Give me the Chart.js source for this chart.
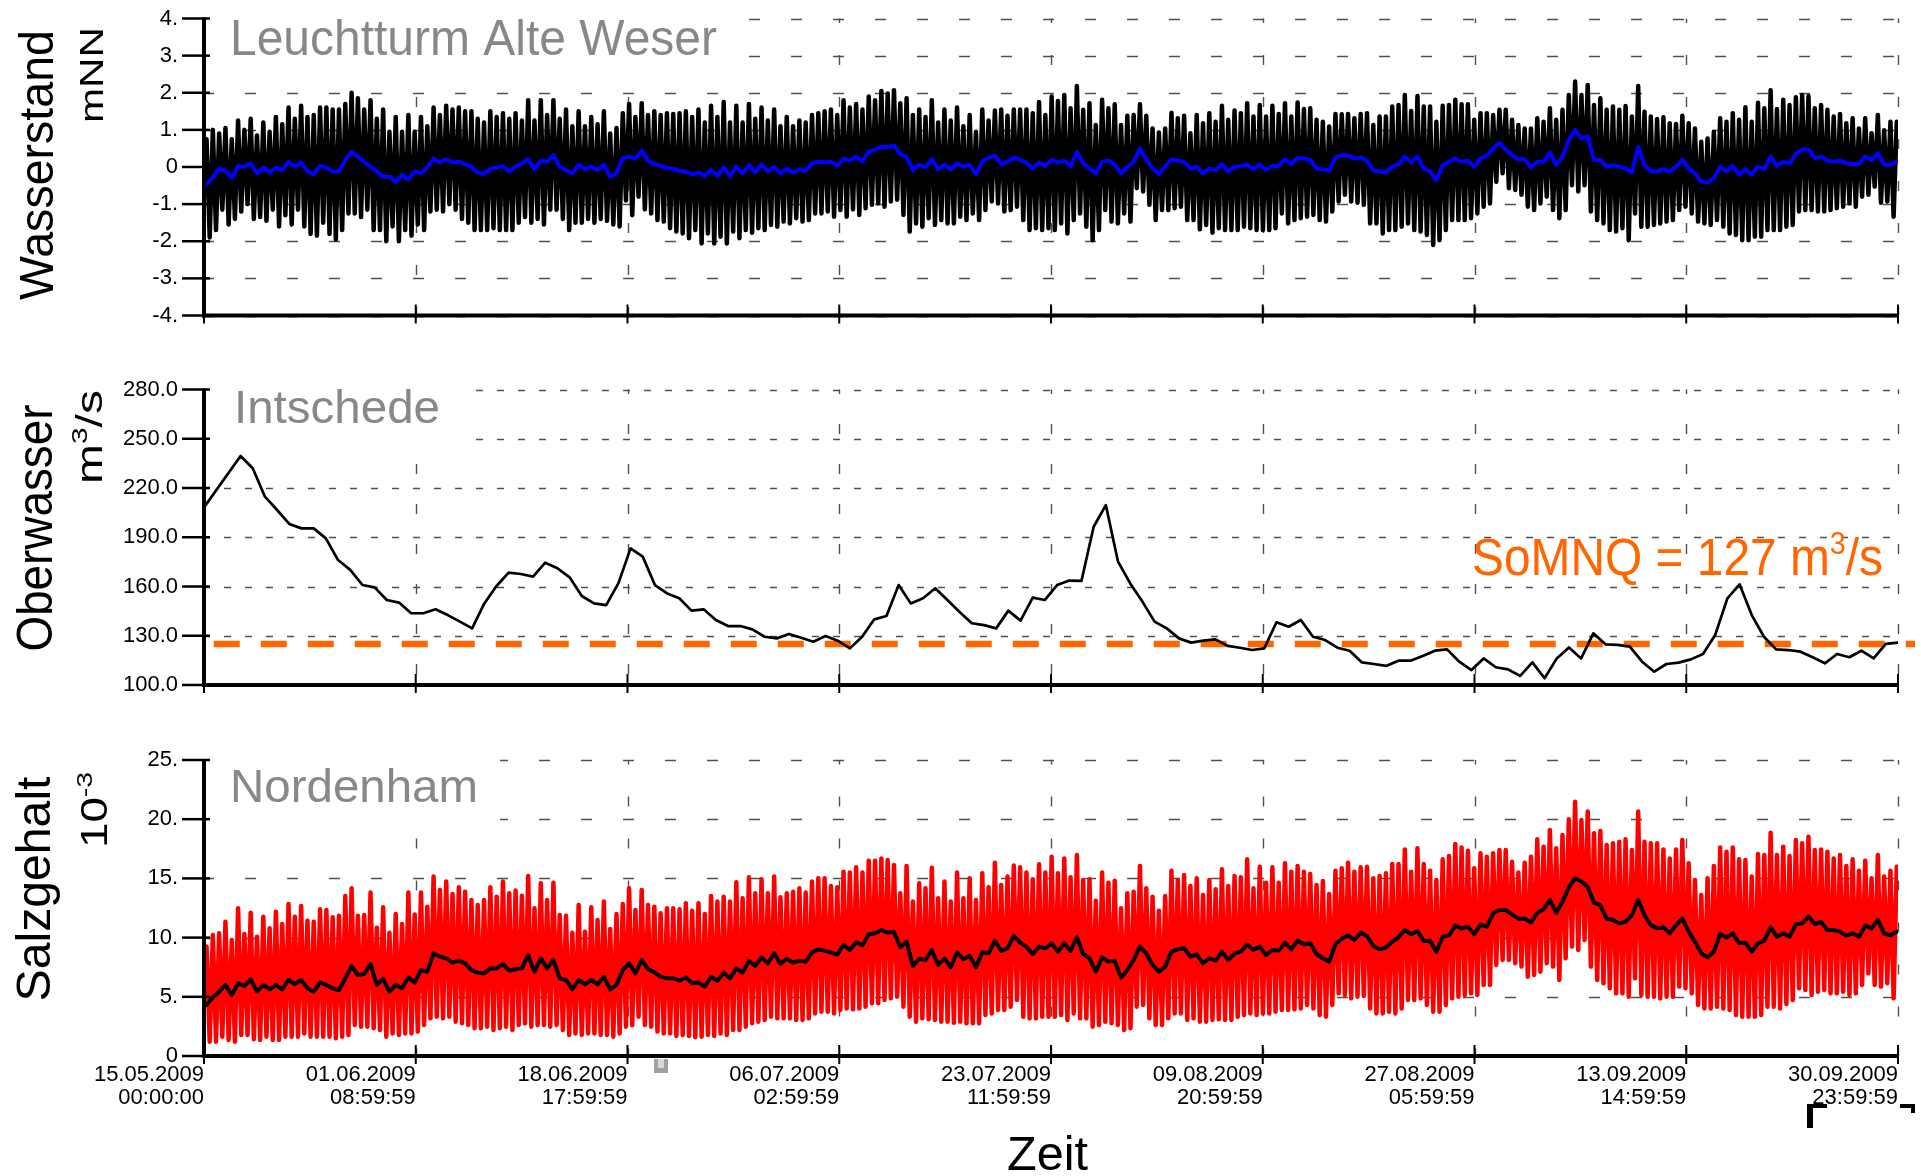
<!DOCTYPE html>
<html>
<head>
<meta charset="utf-8">
<script src="https://cdn.jsdelivr.net/npm/chart.js@4.4.0/dist/chart.umd.min.js"></script>
<style>
  html, body { margin: 0; padding: 0; background: #fff; }
  #wrap { position: relative; width: 1921px; height: 1176px; overflow: hidden; background: #fff; }
  canvas { position: absolute; left: 0; }
</style>
</head>
<body>
<div id="wrap">
  <canvas id="cLevel" width="1921" height="345" style="top:0px"></canvas>
  <canvas id="cFlow" width="1921" height="370" style="top:345px"></canvas>
  <canvas id="cSalt" width="1921" height="461" style="top:715px"></canvas>
</div>
<script>
// ---- time axis (days since 15.05.2009 00:00) ----
const X_MAX_DAYS = 139;
const X_TICK_DAYS = [0, 17.375, 34.75, 52.125, 69.5, 86.875, 104.25, 121.625, 139];
const X_TICK_LABELS = [
  ['15.05.2009', '00:00:00'], ['01.06.2009', '08:59:59'], ['18.06.2009', '17:59:59'],
  ['06.07.2009', '02:59:59'], ['23.07.2009', '11:59:59'], ['09.08.2009', '20:59:59'],
  ['27.08.2009', '05:59:59'], ['13.09.2009', '14:59:59'], ['30.09.2009', '23:59:59']
];
const FIRST_HW_HOURS = 5;
const TIDE_HOURS = 12.42;

// ---- Leuchtturm Alte Weser, water level [m NN], one value per tide ----
const LEVEL_TICKS = [-4, -3, -2, -1, 0, 1, 2, 3, 4];
const LEVEL_HW = [
  0.75, 1.0, 0.9, 1.05, 0.75, 1.25, 1.0, 1.3, 0.85, 1.2, 0.95, 1.35, 1.15, 1.6, 1.3, 1.65, 1.35, 1.4, 1.6, 1.6,
  1.55, 1.55, 1.7, 2.0, 1.85, 1.55, 1.8, 1.3, 1.55, 0.95, 1.35, 0.95, 1.4, 0.95, 1.35, 1.1, 1.6, 1.4, 1.65, 1.55,
  1.6, 1.5, 1.5, 1.3, 1.2, 1.5, 1.35, 1.45, 1.3, 1.45, 1.25, 1.8, 1.25, 1.8, 1.4, 1.8, 1.3, 1.55, 1.1, 1.5,
  1.1, 1.35, 1.15, 1.5, 0.9, 1.05, 1.45, 1.7, 1.35,
  1.72, 1.4, 1.5, 1.4, 1.45, 1.43, 1.45, 1.5, 1.35, 1.55, 1.2, 1.65, 1.35, 1.75, 1.2, 1.65, 1.2, 1.7, 1.3, 1.6,
  1.25, 1.55, 1.1, 1.35, 1.1, 1.25, 1.2, 1.4, 1.45, 1.5, 1.55, 1.4, 1.8, 1.6, 1.7, 1.55, 1.9, 1.8, 2.05, 1.98,
  2.07, 1.72, 1.85, 1.4, 1.55, 1.35, 1.8, 1.2, 1.55, 1.25, 1.6, 1.1, 1.4, 0.95, 1.55, 1.25, 1.52, 1.55, 1.38, 1.55,
  1.55, 1.55, 1.45, 1.75, 1.4, 1.9, 1.78,
  1.94, 1.58, 2.18, 1.54, 1.72, 1.13, 1.81, 1.58, 1.69, 1.13, 1.38, 1.40, 1.69, 1.38, 1.04, 0.93, 1.04, 1.46, 1.31, 1.38,
  0.91, 1.40, 1.18, 1.45, 1.22, 1.65, 1.27, 1.52, 1.45, 1.72, 1.36, 1.67, 1.36, 1.65, 1.43, 1.72, 1.36, 1.74, 1.56, 1.58,
  1.27, 1.22, 1.09, 1.43, 1.42, 1.43, 1.31, 1.43, 1.45, 1.13, 1.36, 1.36, 1.63, 1.67, 1.94, 1.51, 1.91, 1.63, 1.63, 1.22,
  1.65, 1.67, 1.81, 1.69, 1.69, 1.27, 1.45,
  1.45, 1.40, 1.54, 1.54, 1.27, 1.13, 1.04, 1.04, 1.31, 1.22, 1.58, 1.27, 1.54, 1.94, 2.30, 1.94, 2.21, 1.67, 1.85, 1.54,
  1.63, 1.54, 1.64, 1.36, 2.18, 1.49, 1.36, 1.29, 1.34, 1.18, 1.16, 1.38, 1.18, 1.04, 0.68, 0.77, 0.95, 1.31, 1.22, 1.45,
  1.27, 1.61, 1.22, 1.73, 1.58, 2.07, 1.56, 1.81, 1.67, 1.88, 1.94, 1.91, 1.58, 1.67, 1.54, 1.36, 1.43, 1.18, 1.31, 1.04,
  1.31, 0.91, 1.40, 0.99, 1.22, 1.22
];
const LEVEL_LW = [
  -1.9, -1.7, -1.15, -1.55, -1.4, -1.2, -1.0, -1.4, -1.35, -1.45, -1.15, -1.6, -1.3, -1.55, -1.15, -1.6, -1.8, -1.85, -1.5, -1.8,
  -1.95, -1.7, -1.25, -1.25, -1.35, -1.15, -1.7, -1.7, -2.0, -1.6, -2.0, -1.7, -1.85, -1.55, -1.7, -1.2, -1.15, -1.2, -1.0, -1.15,
  -1.4, -1.5, -1.7, -1.7, -1.7, -1.65, -1.7, -1.7, -1.7, -1.5, -1.35, -1.5, -1.4, -1.55, -1.15, -1.15, -1.4, -1.7, -1.5, -1.5,
  -1.4, -1.5, -1.4, -1.45, -1.55, -1.6, -0.9, -1.3,
  -0.8, -1.14, -1.25, -1.43, -1.47, -1.65, -1.74, -1.79, -1.92, -1.7, -2.06, -1.79, -2.06, -1.88, -2.06, -1.74, -1.92, -1.7, -1.77, -1.65,
  -1.7, -1.56, -1.61, -1.47, -1.52, -1.38, -1.47, -1.43, -1.25, -1.25, -1.2, -1.34, -1.16, -1.34, -1.14, -1.29, -1.11, -1.02, -0.98, -1.07,
  -0.93, -0.88, -1.29, -1.74, -1.52, -1.61, -1.38, -1.56, -1.43, -1.52, -1.52, -1.34, -1.43, -1.25, -1.43, -1.16, -0.93, -0.98, -1.2, -1.16,
  -1.07, -1.43, -1.7, -1.65, -1.7, -1.65, -1.7,
  -1.52, -1.79, -1.43, -1.25, -1.61, -1.97, -1.70, -1.16, -1.47, -1.52, -1.25, -1.47, -0.57, -0.66, -1.02, -1.43, -1.16, -1.16, -1.11, -1.07,
  -1.43, -1.43, -1.68, -1.56, -1.77, -1.65, -1.70, -1.70, -1.70, -1.61, -1.65, -1.70, -1.70, -1.70, -1.65, -1.25, -1.52, -1.43, -1.38, -1.34,
  -1.29, -1.43, -1.47, -1.20, -0.93, -0.75, -0.93, -0.96, -1.02, -1.52, -1.52, -1.79, -1.70, -1.70, -1.61, -1.52, -1.70, -1.74, -1.83, -2.10,
  -1.97, -1.70, -1.43, -1.43, -1.43, -1.38, -1.25,
  -1.07, -0.98, -0.40, -0.17, -0.57, -0.62, -0.75, -1.07, -1.16, -0.98, -0.80, -1.16, -1.38, -1.16, -0.49, -0.66, -0.49, -1.20, -1.43, -1.52,
  -1.70, -1.74, -1.65, -1.97, -1.25, -1.61, -1.61, -1.56, -1.52, -1.47, -1.43, -1.16, -1.07, -1.25, -1.47, -1.52, -1.56, -1.43, -1.61, -1.79,
  -1.83, -1.97, -1.97, -1.88, -1.88, -1.70, -1.70, -1.70, -1.61, -1.56, -1.20, -1.16, -1.16, -1.20, -1.20, -1.16, -1.11, -1.07, -0.98, -1.07,
  -0.80, -0.75, -0.53, -0.96, -0.93, -1.34
];
const LEVEL_MEAN = [
  -0.46, -0.28, -0.04, -0.10, -0.29, 0.03, 0.01, 0.10, -0.17, -0.01, -0.15, -0.02, -0.08, 0.14, 0.01, 0.12, -0.12, -0.19, 0.03, -0.01,
  -0.12, -0.12, 0.19, 0.41, 0.28, 0.14, 0.01, -0.12, -0.26, -0.26, -0.40, -0.21, -0.33, -0.12, -0.17, -0.01, 0.22, 0.12, 0.21, 0.12,
  0.14, 0.08, 0.01, -0.15, -0.19, -0.05, -0.01, 0.03, -0.12, 0.01, 0.10, 0.21, -0.06, 0.17, 0.14, 0.32, 0.01, -0.08, -0.17, 0.06,
  -0.06, 0.01, -0.08, 0.06, -0.26, -0.17, 0.24, 0.28, 0.22,
  0.44, 0.17, 0.08, 0.03, -0.02, -0.05, -0.10, -0.12, -0.20, -0.15, -0.24, -0.08, -0.24, -0.01, -0.24, 0.01, -0.17, 0.05, -0.15, 0.07,
  -0.11, 0.00, -0.17, -0.04, -0.15, -0.06, -0.10, 0.10, 0.14, 0.12, 0.14, 0.04, 0.22, 0.17, 0.28, 0.15, 0.41, 0.47, 0.54, 0.54,
  0.58, 0.35, 0.26, -0.08, 0.06, -0.01, 0.21, -0.06, 0.06, -0.06, 0.10, 0.01, 0.06, -0.20, 0.14, 0.26, 0.30, 0.08, 0.14, 0.26,
  0.19, 0.12, -0.04, 0.12, 0.03, 0.19, 0.12,
  0.17, 0.03, 0.41, 0.10, -0.04, -0.17, 0.14, 0.17, 0.06, -0.17, -0.01, 0.14, 0.50, 0.21, -0.04, -0.19, 0.01, 0.21, 0.17, 0.14,
  -0.04, 0.01, -0.17, -0.04, -0.08, 0.08, -0.12, 0.01, 0.03, 0.06, -0.06, 0.07, -0.08, 0.03, 0.03, 0.21, 0.08, 0.25, 0.23, 0.19,
  -0.04, -0.06, -0.10, 0.25, 0.32, 0.31, 0.22, 0.26, 0.17, -0.10, -0.12, -0.14, 0.01, 0.07, 0.28, 0.12, 0.28, -0.04, -0.12, -0.35,
  0.04, 0.14, 0.23, 0.14, 0.17, 0.01, 0.23,
  0.30, 0.50, 0.65, 0.47, 0.32, 0.21, 0.21, -0.01, 0.14, 0.14, 0.39, 0.06, 0.28, 0.73, 1.00, 0.77, 0.82, 0.19, 0.19, 0.01,
  0.05, 0.01, -0.04, -0.15, 0.54, 0.06, -0.11, -0.12, -0.06, -0.12, 0.01, 0.19, -0.04, -0.17, -0.40, -0.41, -0.30, 0.01, -0.12, 0.03,
  -0.21, -0.06, -0.21, 0.01, -0.06, 0.28, 0.03, 0.14, 0.10, 0.35, 0.47, 0.47, 0.24, 0.28, 0.17, 0.14, 0.17, 0.10, 0.08, 0.08,
  0.28, 0.19, 0.37, 0.06, 0.06, 0.14
];

// ---- Intschede, discharge [m3/s], daily (null = no value) ----
const FLOW_TICKS = [100, 130, 160, 190, 220, 250, 280];
const FLOW_DAILY = [
  208.2, null, null, 239.5, 232.0, 214.7, 206.6, 198.1, 195.4, 195.4,
  189.3, 176.1, 170.1, 160.9, 159.5, 151.8, 150.2, 143.7, 143.7, 146.1,
  142.6, 138.6, 134.5, 149.7, 160.3, 168.4, 167.6, 166.0, 174.5, 171.1,
  165.6, 154.2, 149.7, 148.7, 161.9, 183.2, 178.2, 160.9, 155.8, 152.8,
  145.3, 146.1, 139.6, 135.9, 135.9, 133.9, 129.4, 128.4, 131.1, 128.8,
  126.4, 129.8, 127.0, 122.3, 129.4, 140.0, 142.0, 160.9, 149.7, 152.8,
  158.9, 151.8, 144.5, 137.6, 136.5, 134.5, 145.3, 139.2, 153.2, 151.8,
  160.9, 163.6, 163.4, 196.4, 209.6, 175.1, 161.9, 150.8, 138.6, 134.5,
  128.4, 125.8, 127.0, 127.8, 123.8, 122.7, 121.3, 122.3, 138.2, 135.5,
  139.6, 129.4, 127.4, 122.7, 120.9, 113.8, 112.8, 111.6, 114.8, 114.8,
  117.7, 120.9, 121.7, 114.2, 109.1, 116.2, 110.8, 109.5, 105.5, 113.8,
  104.1, 116.2, 122.9, 116.2, 131.5, 124.8, 124.4, 123.4, 114.2, 108.1,
  112.8, 113.6, 115.6, 118.9, 130.5, 152.8, 161.3, 142.6, 129.4, 121.7,
  121.3, 120.3, 116.9, 113.2, 118.9, 116.9, 120.9, 116.2, 125.0, 125.8
];
const SOMNQ_LEVEL = 125;
const SOMNQ_DAYS = [0.8, 140.4];

// ---- Nordenham, salinity [10^-3], one value per tide ----
const SALT_TICKS = [0, 5, 10, 15, 20, 25];
const SALT_HW = [
  9.24, 10.22, 10.36, 11.34, 9.80, 12.47, 10.31, 12.10, 10.08, 11.77, 10.78, 12.19, 11.15, 12.84, 11.77, 12.67, 11.43, 11.34, 12.39, 12.33,
  11.71, 11.85, 13.51, 14.17, 11.85, 11.90, 13.80, 10.84, 12.56, 10.42, 11.99, 11.15, 13.80, 11.96, 13.80, 12.61, 15.15, 14.03, 14.73, 13.68,
  14.25, 13.88, 13.18, 12.75, 13.18, 14.25, 13.46, 14.73, 13.74, 13.97, 13.54, 15.20, 12.47, 14.59, 13.18, 14.64, 11.90, 11.85, 10.42, 12.75,
  10.50, 12.56, 11.49, 13.04, 10.73, 11.99, 12.84, 14.17,
  12.33, 14.03, 12.75, 12.61, 12.05, 12.47, 12.47, 12.39, 12.90, 12.27, 12.90, 11.99, 13.51, 13.04, 13.46, 13.04, 14.67, 13.32, 15.09, 13.74,
  14.92, 13.74, 15.15, 13.40, 13.74, 13.88, 14.17, 13.80, 14.73, 15.01, 15.01, 14.36, 14.25, 15.57, 15.49, 15.94, 15.49, 16.50, 16.50, 16.69,
  16.55, 16.13, 13.74, 16.05, 13.04, 14.59, 14.17, 15.91, 13.32, 14.73, 13.04, 15.49, 13.32, 15.01, 13.18, 15.43, 14.25, 16.33, 14.45, 15.15,
  16.08, 15.94, 15.49, 14.92, 16.19, 15.49, 16.83,
  15.43, 16.69, 15.09, 16.97, 14.87, 14.92, 13.12, 15.49, 14.64, 14.81, 12.47, 13.74, 13.88, 16.05, 14.17, 13.46, 12.27, 13.51, 15.65, 14.87,
  15.29, 14.36, 15.01, 13.60, 14.87, 14.08, 15.77, 14.36, 15.20, 15.09, 16.61, 14.17, 15.99, 14.64, 15.94, 14.64, 16.27, 15.57, 16.05, 15.57,
  15.37, 14.45, 14.78, 13.68, 15.65, 15.85, 16.33, 15.57, 15.94, 15.99, 15.01, 15.20, 15.43, 16.22, 16.22, 17.45, 15.57, 17.54, 16.22, 15.65,
  14.87, 16.61, 16.89, 17.91, 17.62, 17.34, 15.85,
  17.12, 16.83, 17.12, 17.40, 17.40, 16.41, 15.49, 16.33, 16.83, 18.30, 17.68, 19.09, 17.54, 18.66, 19.99, 21.48, 19.93, 20.64, 18.81, 19.00,
  17.82, 17.96, 18.10, 18.30, 17.40, 20.64, 18.10, 17.96, 17.96, 17.45, 16.69, 17.45, 18.24, 16.27, 14.87, 13.60, 15.01, 16.05, 17.62, 17.26,
  17.62, 16.61, 16.55, 15.15, 17.06, 16.97, 18.86, 16.97, 17.68, 16.89, 18.24, 17.96, 18.52, 17.40, 17.45, 17.26, 16.69, 16.97, 16.05, 16.61,
  15.65, 16.50, 15.01, 16.97, 15.15, 15.65, 15.99
];
const SALT_LW = [
  1.21, 1.21, 1.63, 1.35, 1.21, 1.77, 1.77, 1.41, 1.35, 1.63, 1.35, 1.35, 1.63, 1.63, 1.63, 1.91, 1.63, 1.63, 1.63, 1.63,
  1.49, 1.63, 1.77, 2.62, 2.48, 2.48, 2.34, 2.20, 1.63, 1.91, 1.77, 1.91, 1.91, 2.06, 2.62, 3.18, 3.32, 3.18, 3.32, 2.90,
  2.76, 2.62, 2.34, 2.34, 2.48, 2.20, 2.34, 2.48, 2.20, 2.62, 2.76, 2.48, 2.62, 2.62, 2.48, 2.62, 2.20, 1.77, 1.91, 1.77,
  1.91, 1.91, 1.77, 1.77, 1.63, 1.91, 2.48, 2.60,
  3.32, 2.62, 2.48, 2.06, 1.91, 1.91, 1.69, 1.77, 1.69, 1.58, 1.63, 1.77, 1.69, 1.91, 1.77, 2.20, 2.20, 2.48, 2.76, 2.90,
  3.04, 3.32, 3.18, 3.18, 3.18, 3.04, 3.04, 3.18, 3.60, 3.74, 3.74, 3.60, 3.88, 4.02, 3.94, 4.02, 4.17, 4.45, 4.45, 4.73,
  4.87, 5.01, 4.17, 3.32, 2.90, 3.18, 3.10, 3.04, 2.90, 2.90, 2.81, 2.90, 2.76, 2.76, 2.76, 3.46, 3.60, 3.88, 3.88, 4.17,
  4.73, 3.32, 3.18, 3.18, 3.32, 3.32, 3.32,
  3.46, 3.04, 3.60, 3.18, 3.18, 2.48, 2.62, 2.90, 2.76, 2.62, 2.20, 2.34, 4.17, 4.31, 3.18, 2.62, 2.62, 3.18, 3.60, 3.60,
  3.04, 3.18, 2.90, 2.90, 3.04, 3.10, 3.04, 3.04, 3.32, 3.46, 3.60, 3.46, 3.60, 3.60, 3.74, 3.88, 3.88, 3.94, 4.02, 4.31,
  4.02, 3.46, 3.32, 4.31, 5.29, 5.15, 4.87, 5.01, 5.07, 4.02, 3.60, 3.60, 3.74, 3.60, 4.02, 4.73, 4.73, 4.87, 4.31, 3.74,
  3.74, 4.31, 4.87, 5.01, 5.15, 5.29, 5.15,
  6.00, 6.00, 7.69, 8.11, 8.11, 7.83, 7.55, 6.70, 6.84, 7.12, 7.83, 7.55, 6.42, 8.25, 9.24, 8.95, 9.80, 7.55, 6.42, 6.14,
  5.72, 5.29, 5.29, 5.01, 6.56, 5.15, 5.01, 5.01, 4.87, 5.01, 5.01, 5.86, 5.72, 5.29, 4.31, 4.02, 4.02, 4.17, 4.02, 3.88,
  3.46, 3.32, 3.32, 3.32, 3.46, 4.17, 4.17, 4.02, 4.39, 4.73, 5.72, 5.57, 5.15, 5.43, 5.57, 5.29, 5.29, 5.43, 5.15, 5.29,
  6.00, 6.98, 6.00, 5.86, 6.14, 4.87
];
const SALT_MEAN = [
  4.31, 4.96, 5.43, 6.00, 5.15, 6.14, 5.91, 6.48, 5.43, 6.00, 5.63, 6.00, 5.63, 6.42, 6.08, 6.42, 5.72, 5.43, 6.22, 6.00,
  5.72, 5.57, 6.56, 7.60, 6.84, 6.93, 7.77, 6.00, 6.51, 5.43, 6.00, 5.72, 6.65, 6.20, 7.26, 7.12, 8.67, 8.39, 8.25, 7.88,
  8.05, 7.83, 7.26, 7.04, 6.98, 7.40, 7.38, 7.77, 7.21, 7.32, 7.40, 8.53, 7.12, 8.25, 7.40, 8.11, 6.56, 6.42, 5.63, 6.42,
  6.05, 6.42, 6.05, 6.70, 5.63, 6.00, 7.26, 7.83,
  6.98, 8.11, 7.35, 7.07, 6.70, 6.56, 6.56, 6.36, 6.65, 6.14, 6.22, 5.86, 6.70, 6.36, 7.04, 6.56, 7.40, 7.04, 8.05, 7.60,
  8.33, 7.83, 8.67, 7.77, 8.22, 7.88, 8.05, 7.97, 8.76, 9.01, 8.90, 8.73, 8.56, 9.40, 8.95, 9.60, 9.35, 10.28, 10.36, 10.64,
  10.42, 10.47, 9.18, 9.66, 7.60, 8.22, 8.11, 8.95, 7.69, 8.25, 7.49, 8.76, 8.17, 8.47, 7.49, 8.76, 8.67, 9.74, 8.87, 9.10,
  10.14, 9.57, 9.24, 8.62, 9.24, 9.10, 9.52,
  8.81, 9.52, 8.87, 10.03, 8.62, 8.25, 7.12, 8.33, 7.97, 8.05, 6.62, 7.26, 8.11, 9.24, 8.67, 7.69, 7.12, 7.55, 8.81, 9.01,
  9.10, 8.39, 8.59, 7.83, 8.25, 8.05, 8.81, 8.11, 8.67, 8.81, 9.43, 8.95, 9.24, 8.53, 8.95, 8.90, 9.57, 9.01, 9.74, 9.43,
  9.52, 8.62, 8.25, 7.97, 9.46, 9.91, 10.19, 9.80, 10.42, 10.14, 9.29, 9.01, 9.15, 9.66, 10.03, 10.64, 10.28, 10.58, 9.71, 9.74,
  8.81, 10.08, 10.19, 11.01, 10.78, 10.92, 10.28,
  11.10, 10.92, 12.05, 12.33, 12.33, 11.96, 11.60, 11.60, 11.29, 12.10, 12.39, 13.18, 12.10, 13.04, 14.25, 15.01, 14.73, 14.30, 12.95, 12.75,
  11.60, 11.49, 11.20, 11.34, 11.90, 13.18, 11.90, 11.06, 10.78, 10.87, 10.36, 11.06, 11.60, 10.50, 9.66, 8.67, 8.33, 8.81, 10.31, 10.00,
  10.36, 9.52, 9.57, 8.81, 9.52, 9.74, 10.87, 10.08, 10.36, 10.08, 11.12, 11.20, 11.77, 11.15, 11.32, 10.64, 10.64, 10.50, 10.17, 10.36,
  10.08, 11.01, 10.78, 11.49, 10.36, 10.19, 10.50
];

// ---- look ----
const FONT = '"Liberation Sans", Arial, Helvetica, sans-serif';
const GRID_COLOR = '#505050';
const TITLE_COLOR = '#888888';
const ORANGE = '#ff6600';

function tideSeries(hw, lw) {
  const pts = [];
  hw.forEach((v, i) => {
    pts.push({ x: (FIRST_HW_HOURS + i * TIDE_HOURS) / 24, y: v });
    if (i < lw.length) pts.push({ x: (FIRST_HW_HOURS + (i + 0.5) * TIDE_HOURS) / 24, y: lw[i] });
  });
  return pts;
}
function meanSeries(vals) {
  return vals.map((v, i) => ({ x: (FIRST_HW_HOURS + i * TIDE_HOURS) / 24, y: v }));
}
function dailySeries(vals) {
  return vals.map((v, d) => ({ x: d, y: v })).filter(p => p.y !== null);
}

// text made of runs (for superscripts), stretched to a measured length
function drawRuns(ctx, runs, size, x, y, length, rotated, color) {
  ctx.save();
  ctx.fillStyle = color;
  ctx.textBaseline = 'alphabetic';
  ctx.textAlign = 'left';
  let total = 0;
  const widths = runs.map(r => {
    ctx.font = `${size * (r.s || 1)}px ${FONT}`;
    const w = ctx.measureText(r.t).width;
    total += w;
    return w;
  });
  ctx.translate(x, y);
  if (rotated) ctx.rotate(-Math.PI / 2);
  ctx.scale(length / total, 1);
  let cx = rotated ? -total / 2 : 0;
  runs.forEach((r, i) => {
    ctx.font = `${size * (r.s || 1)}px ${FONT}`;
    ctx.fillText(r.t, cx, -(r.rise || 0) * size);
    cx += widths[i];
  });
  ctx.restore();
}

// plot frame taken from the scales themselves
function frame(chart, spec) {
  const xs = chart.scales.x, ys = chart.scales.y;
  return {
    left: xs.getPixelForValue(0), right: xs.getPixelForValue(X_MAX_DAYS),
    top: ys.getPixelForValue(spec.yTicks[spec.yTicks.length - 1]), bottom: ys.getPixelForValue(spec.yTicks[0])
  };
}

function panelDecor(spec) {
  return {
    id: 'panelDecor',
    beforeDatasetsDraw(chart) {
      const ctx = chart.ctx;
      const a = frame(chart, spec);
      const xs = chart.scales.x, ys = chart.scales.y;
      const top = spec.pageTop;
      ctx.save();
      ctx.strokeStyle = GRID_COLOR;
      ctx.lineWidth = 1.4;
      ctx.setLineDash(spec.hDash);
      ctx.lineDashOffset = 1;
      spec.yTicks.forEach(v => {
        const py = Math.round(ys.getPixelForValue(v)) + 0.5;
        ctx.beginPath(); ctx.moveTo(a.left, py); ctx.lineTo(a.right, py); ctx.stroke();
      });
      ctx.setLineDash(spec.vDash);
      ctx.lineDashOffset = 5.5;
      X_TICK_DAYS.forEach(d => {
        const px = Math.round(xs.getPixelForValue(d)) + 0.5;
        ctx.beginPath(); ctx.moveTo(px, a.top); ctx.lineTo(px, a.bottom); ctx.stroke();
      });
      ctx.setLineDash([]);
      const b = spec.titleBox;
      ctx.fillStyle = '#ffffff';
      ctx.fillRect(b[0], b[1] - top, b[2] - b[0], b[3] - b[1]);
      const t = spec.title;
      drawRuns(ctx, [{ t: t.text }], t.size, t.x, t.y - top, t.width, false, TITLE_COLOR);
      ctx.restore();
    },
    afterDatasetsDraw(chart) {
      const ctx = chart.ctx;
      const a = frame(chart, spec);
      const xs = chart.scales.x, ys = chart.scales.y;
      ctx.save();
      ctx.strokeStyle = '#000';
      ctx.lineCap = 'butt';
      ctx.lineWidth = 2.5;
      spec.yTicks.forEach(v => {
        const py = ys.getPixelForValue(v);
        ctx.beginPath(); ctx.moveTo(a.left - 22, py); ctx.lineTo(a.left + 6, py); ctx.stroke();
      });
      ctx.lineWidth = 2;
      X_TICK_DAYS.forEach(d => {
        const px = xs.getPixelForValue(d);
        ctx.beginPath(); ctx.moveTo(px, a.bottom - 11); ctx.lineTo(px, a.bottom + 8); ctx.stroke();
      });
      ctx.lineWidth = 4;
      ctx.beginPath(); ctx.moveTo(a.left, a.top - 1); ctx.lineTo(a.left, a.bottom + 2); ctx.stroke();
      ctx.beginPath(); ctx.moveTo(a.left - 2, a.bottom); ctx.lineTo(a.right + 1, a.bottom); ctx.stroke();
      ctx.restore();
    },
    afterDraw(chart) {
      const ctx = chart.ctx;
      spec.labels.forEach(l => drawRuns(ctx, l.runs, l.size, l.x, l.y - spec.pageTop, l.length, l.rotated, l.color || '#000'));
      if (spec.marks) {
        ctx.save();
        ctx.translate(0, -spec.pageTop);
        spec.marks.forEach(m => { ctx.fillStyle = m[4]; ctx.fillRect(m[0], m[1], m[2], m[3]); });
        ctx.restore();
      }
    }
  };
}

function yAxis(ticks, fmt) {
  return {
    type: 'linear',
    min: ticks[0], max: ticks[ticks.length - 1],
    afterBuildTicks: s => { s.ticks = ticks.map(v => ({ value: v })); },
    // fixed axis width; label padding must not eat into the plot height
    afterFit: s => { s.width = 204; s.paddingTop = 0; s.paddingBottom = 0; },
    grid: { display: false, drawTicks: false },
    border: { display: false },
    ticks: { color: '#000', padding: 26, font: { family: FONT, size: 22 }, callback: fmt }
  };
}
function xAxis(showLabels) {
  const ax = {
    type: 'linear', min: 0, max: X_MAX_DAYS, display: showLabels,
    afterBuildTicks: s => { s.ticks = X_TICK_DAYS.map(v => ({ value: v })); },
    grid: { display: false, drawTicks: false },
    border: { display: false }
  };
  if (showLabels) {
    ax.afterFit = s => { s.height = 110; };
    ax.ticks = {
      autoSkip: false, maxRotation: 0, minRotation: 0, align: 'end', padding: 7, color: '#000',
      font: { family: FONT, size: 22, lineHeight: 1.07 },
      callback: (v, i) => X_TICK_LABELS[i]
    };
  }
  return ax;
}
const dotFmt = v => (v === 0 ? '0' : v + '.');

function lineDs(data, color, width, order, extra) {
  return Object.assign({ data, borderColor: color, borderWidth: width, pointRadius: 0, tension: 0,
    borderJoinStyle: 'round', borderCapStyle: 'round', fill: false, order }, extra || {});
}

// build a chart, then nudge the layout padding until the y scale spans the wanted page rows
function makeChart(id, spec, datasets, yAx, xAx, padding) {
  const chart = new Chart(document.getElementById(id), {
    type: 'line',
    data: { datasets },
    options: {
      responsive: false, animation: false, events: [],
      layout: { autoPadding: false, padding },
      plugins: { legend: { display: false }, tooltip: { enabled: false } },
      scales: { x: xAx, y: yAx }
    },
    plugins: [panelDecor(spec)]
  });
  for (let k = 0; k < 16; k++) {
    const a = frame(chart, spec);
    const eTop = (spec.areaTop - spec.pageTop) - a.top;
    const eBot = a.bottom - (spec.areaBottom - spec.pageTop);
    if (Math.abs(eTop) < 0.25 && Math.abs(eBot) < 0.25) break;
    const pad = chart.options.layout.padding;
    chart.options.layout.padding = {
      left: pad.left, right: pad.right,
      top: pad.top + eTop * 0.5, bottom: pad.bottom + eBot * 0.5
    };
    chart.update('none');
  }
  return chart;
}

// top: water level
makeChart('cLevel', {
  pageTop: 0, areaTop: 18.5, areaBottom: 315.5,
  yTicks: LEVEL_TICKS, hDash: [11, 31], vDash: [10, 32],
  titleBox: [206, 17, 742, 86],
  title: { text: 'Leuchtturm Alte Weser', size: 50, x: 230, y: 55, width: 487 },
  labels: [
    { runs: [{ t: 'Wasserstand' }], size: 48, x: 53, y: 165, length: 270, rotated: true },
    { runs: [{ t: 'mNN' }], size: 34, x: 103, y: 75, length: 96, rotated: true }
  ]
}, [
  lineDs(meanSeries(LEVEL_MEAN), '#0000ff', 4, 1),
  lineDs(tideSeries(LEVEL_HW, LEVEL_LW), '#000000', 4.5, 2)
], yAxis(LEVEL_TICKS, dotFmt), xAxis(false), { left: 0, right: 23, top: 18.5, bottom: 29.5 });

// middle: discharge
makeChart('cFlow', {
  pageTop: 345, areaTop: 389.5, areaBottom: 685,
  yTicks: FLOW_TICKS, hDash: [7, 14], vDash: [10, 30],
  titleBox: [206, 389, 462, 460],
  title: { text: 'Intschede', size: 46, x: 234, y: 423, width: 206 },
  labels: [
    { runs: [{ t: 'Oberwasser' }], size: 50, x: 52, y: 528, length: 247, rotated: true },
    { runs: [{ t: 'm' }, { t: '3', s: 0.62, rise: 0.42 }, { t: '/s' }], size: 36, x: 102, y: 437, length: 94, rotated: true },
    { runs: [{ t: 'SoMNQ = 127 m' }, { t: '3', s: 0.6, rise: 0.42 }, { t: '/s' }], size: 51, x: 1472, y: 575, length: 411, rotated: false, color: ORANGE }
  ]
}, [
  lineDs(dailySeries(FLOW_DAILY), '#000000', 2.7, 1),
  lineDs(SOMNQ_DAYS.map(d => ({ x: d, y: SOMNQ_LEVEL })), ORANGE, 6.5, 2,
    { borderDash: [26, 21], borderCapStyle: 'butt', clip: false })
], yAxis(FLOW_TICKS, v => v.toFixed(1)), xAxis(false), { left: 0, right: 23, top: 44.5, bottom: 30 });

// bottom: salinity (plus the small stray marks that are in the source image)
makeChart('cSalt', {
  pageTop: 715, areaTop: 760, areaBottom: 1056,
  yTicks: SALT_TICKS, hDash: [11, 31], vDash: [10, 32],
  titleBox: [206, 759, 500, 836],
  title: { text: 'Nordenham', size: 47, x: 230, y: 802, width: 248 },
  labels: [
    { runs: [{ t: 'Salzgehalt' }], size: 48, x: 50, y: 889, length: 225, rotated: true },
    { runs: [{ t: '10' }, { t: '-3', s: 0.62, rise: 0.42 }], size: 36, x: 107, y: 810, length: 76, rotated: true },
    { runs: [{ t: 'Zeit' }], size: 49, x: 1007, y: 1170, length: 81, rotated: false }
  ],
  marks: [
    [654, 1059, 14, 14, '#a0a0a0'], [658, 1059, 6, 9, '#d8d8d8'],
    [1807, 1104, 6, 24, '#000'], [1807, 1104, 20, 4, '#000'],
    [1900, 1104, 15, 4, '#000'], [1911, 1104, 4, 9, '#000']
  ]
}, [
  lineDs(meanSeries(SALT_MEAN), '#000000', 4, 1),
  lineDs(tideSeries(SALT_HW, SALT_LW), '#ff0000', 4.5, 2)
], yAxis(SALT_TICKS, dotFmt), xAxis(true), { left: 0, right: 23, top: 45, bottom: 10 });
</script>
</body>
</html>
